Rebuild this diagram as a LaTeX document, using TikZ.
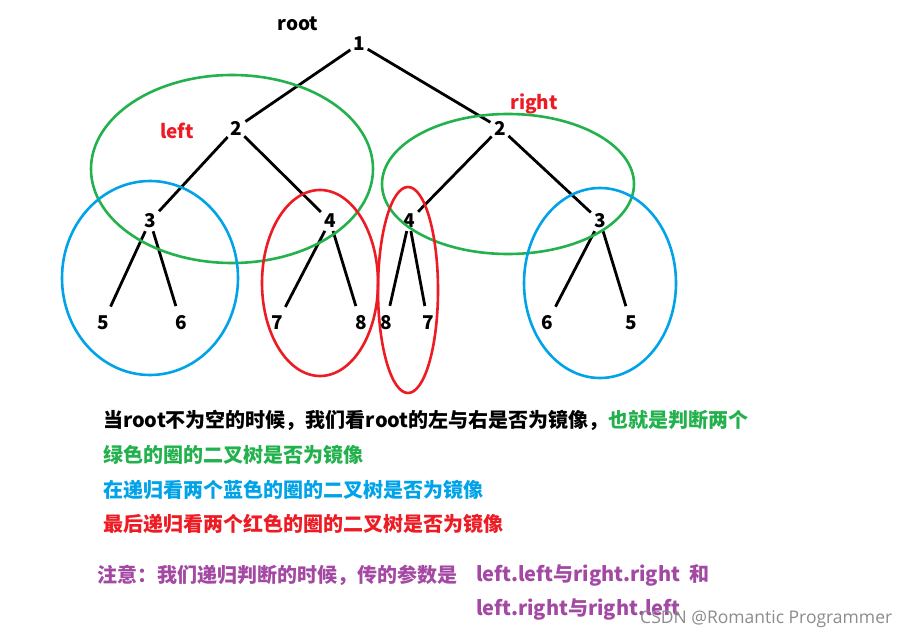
\documentclass[tikz,border=0pt]{standalone}
\usepackage{fontspec}
\setmainfont{Noto Sans CJK SC}
\newfontfamily\markfont{Open Sans}
\definecolor{pgreen}{RGB}{34,177,76}
\definecolor{pblue}{RGB}{0,162,232}
\definecolor{pred}{RGB}{237,28,36}
\definecolor{ppurple}{RGB}{163,73,164}

\begin{document}
\begin{tikzpicture}[
  x=1pt, y=-1pt,
  num/.style={font=\bfseries\fontsize{19}{19}\selectfont, inner sep=1pt},
  tag/.style={font=\bfseries\fontsize{19}{19}\selectfont, inner sep=0pt},
  say/.style={anchor=west, inner sep=0pt, font=\bfseries\fontsize{20}{20}\selectfont},
  link/.style={line width=2.8pt, shorten <=2pt, shorten >=3pt},
  leaf/.style={link, shorten >=9pt},
  ring/.style={line width=2.6pt}
]
\useasboundingbox[fill=white] (0,0) rectangle (907,639);

\node[tag] (root) at (298,24) {root};
\node[num] (n1) at (359,44) {1};
\node[num] (l2) at (236,128) {2};
\node[tag, text=pred] (lt) at (177,131) {left};
\node[num] (r2) at (500,128) {2};
\node[tag, text=pred] (rt) at (534,104) {right};
\node[num] (l3) at (150,221) {3};
\node[num] (l4) at (330,221) {4};
\node[num] (r4) at (409,221) {4};
\node[num] (r3) at (600,221) {3};
\node[num] (l5) at (103,323) {5};
\node[num] (l6) at (181,323) {6};
\node[num] (l7) at (277,323) {7};
\node[num] (l8) at (361,323) {8};
\node[num] (r8) at (386,323) {8};
\node[num] (r7) at (428,323) {7};
\node[num] (r6) at (547,323) {6};
\node[num] (r5) at (631,323) {5};

\draw[link] (n1) -- (l2);
\draw[link] (n1) -- (r2);
\draw[link] (l2) -- (l3);
\draw[link] (l2) -- (l4);
\draw[link] (r2) -- (r4);
\draw[link] (r2) -- (r3);
\draw[leaf] (l3) -- (l5);
\draw[leaf] (l3) -- (l6);
\draw[leaf] (l4) -- (l7);
\draw[leaf] (l4) -- (l8);
\draw[leaf] (r4) -- (r8);
\draw[leaf] (r4) -- (r7);
\draw[leaf] (r3) -- (r6);
\draw[leaf] (r3) -- (r5);

\draw[ring, pgreen] (232,169) ellipse (141 and 94);
\draw[ring, pgreen] (508,184) ellipse (126 and 70);
\draw[ring, pblue] (150,278) ellipse (88 and 97);
\draw[ring, pblue] (600,283) ellipse (76 and 95);
\draw[ring, pred] (320,283) ellipse (58 and 93);
\draw[ring, pred] (408,290) ellipse (30 and 103);

\node[say] (t1) at (103,420) {当root不为空的时候，我们看root的左与右是否为镜像，\textcolor{pgreen}{也就是判断两个}};
\node[say, text=pgreen] (t2) at (103,455) {绿色的圈的二叉树是否为镜像};
\node[say, text=pblue] (t3) at (103,490) {在递归看两个蓝色的圈的二叉树是否为镜像};
\node[say, text=pred] (t4) at (103,524) {最后递归看两个红色的圈的二叉树是否为镜像};
\node[say, text=ppurple] (t5) at (97,575) {注意：我们递归判断的时候，传的参数是};
\node[say, text=ppurple] (t6) at (476,575) {left.left与right.right\hspace{9pt}和};
\node[say, text=ppurple] (t7) at (476,609) {left.right与right.left};
\node[anchor=west, inner sep=0pt, text=black!45, font=\markfont\fontsize{17.5}{17.5}\selectfont] (mark) at (640,619) {CSDN @Romantic Programmer};
\end{tikzpicture}
\end{document}
